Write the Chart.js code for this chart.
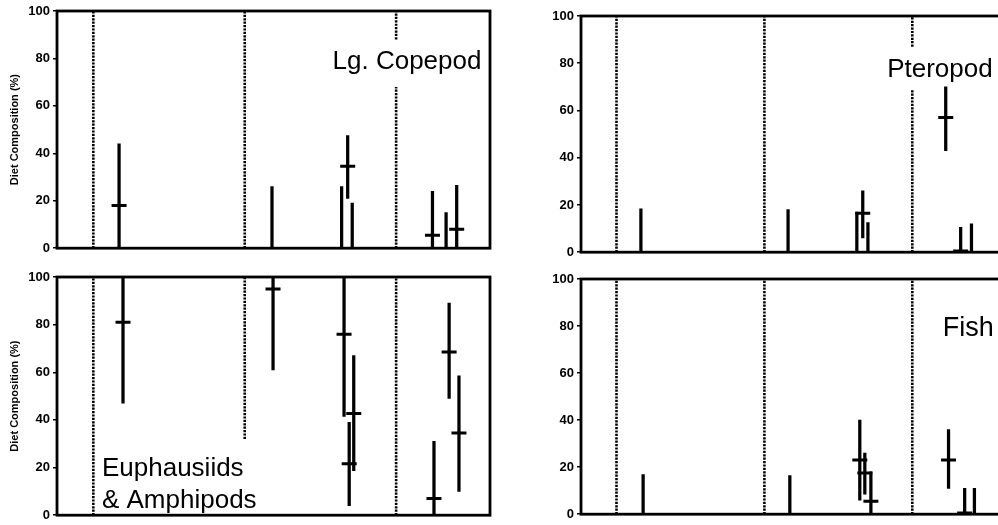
<!DOCTYPE html>
<html>
<head>
<meta charset="utf-8">
<script src="https://cdn.jsdelivr.net/npm/chart.js@4.4.1/dist/chart.umd.min.js"></script>
<style>
  html, body { margin: 0; padding: 0; background: #fff; overflow: hidden; }
  body { width: 998px; height: 525px; position: relative; }
  canvas { position: absolute; }
</style>
</head>
<body>
<canvas id="copepod" width="500" height="259" style="left:0;top:0"></canvas>
<canvas id="pteropod" width="490" height="258" style="left:524px;top:5px"></canvas>
<canvas id="euphausiid" width="500" height="260" style="left:0;top:266px"></canvas>
<canvas id="fish" width="490" height="257" style="left:524px;top:268px"></canvas>
<script>
// diet composition (%) per prey group: range (low-high) and mean
const yTicks = [0, 20, 40, 60, 80, 100];

const copepodX    = [1.17, 2.18, 2.64, 2.68, 2.71, 3.24, 3.33, 3.40];
const copepodLow  = [0,    0,    0,    21,   0,    0,    0,    0];
const copepodHigh = [44,   26,   26,   47.5, 19,   24,   15,   26.5];
const copepodMean = [18,   null, null, 34.5, null, 5.5,  null, 8];
const copepodDividers = [[1, 0, 100], [2, 0, 100], [3, 0, 68], [3, 88, 100]];

const pteropodX    = [1.165, 2.16, 2.625, 2.665, 2.70, 3.226, 3.327, 3.40];
const pteropodLow  = [0,     0,    0,     6,     0,    43,    0,     0];
const pteropodHigh = [18.4,  18,   17,    26,    12.5, 70,    10.5,  12];
const pteropodMean = [null,  null, null,  16.5,  null, 57,    0.5,   null];
const pteropodDividers = [[1, 0, 100], [2, 0, 100], [3, 0, 69], [3, 87, 100]];

const euphausiidX    = [1.196, 2.187, 2.656, 2.69, 2.72, 3.25, 3.35, 3.415];
const euphausiidLow  = [47,    61,    41.5,  4,    18.7, 0,    49,   10];
const euphausiidHigh = [100,   100,   100,   39,   67,   31,   89,   58.5];
const euphausiidMean = [81,    95,    76,    21.6, 42.7, 7,    68.5, 34.5];
const euphausiidDividers = [[1, 0, 100], [2, 32, 100], [3, 0, 100]];

const fishX    = [1.18, 2.172, 2.645, 2.679, 2.72, 3.245, 3.354, 3.42];
const fishLow  = [0,    0,     6,     8.5,   0,    11,    0,     0];
const fishHigh = [16.8, 16.4,  40,    26,    18,   36,    11,    11];
const fishMean = [null, null,  23,    17.5,  5.5,  23,    0.5,   null];
const fishDividers = [[1, 0, 100], [2, 0, 100], [3, 0, 100]];

const AXIS_W = 57;
const X_MIN = 0.76, X_MAX = 3.62;
const FONT = '"Liberation Sans", Arial, Helvetica, sans-serif';

// thick black box round the plot area plus the panel caption
const framePlugin = {
  id: 'frame',
  afterDatasetsDraw(chart, args, opts) {
    const { ctx, chartArea: a, scales } = chart;
    ctx.save();
    ctx.strokeStyle = '#000';
    ctx.lineWidth = 2.8;
    ctx.strokeRect(a.left, a.top, a.right - a.left, a.bottom - a.top);

    if (opts.lines) {
      ctx.fillStyle = '#000';
      ctx.font = `${opts.size}px ${FONT}`;
      ctx.textBaseline = 'alphabetic';
      ctx.textAlign = 'left';
      const x = scales.x.getPixelForValue(opts.x);
      const y = scales.y.getPixelForValue(opts.y);
      opts.lines.forEach((t, i) => ctx.fillText(t, x, y + i * opts.lineGap));
    }
    ctx.restore();
  }
};

function buildPanel(id, p) {
  const datasets = [];

  p.dividers.forEach(([x, y0, y1]) => {
    datasets.push({
      type: 'line',
      data: [{ x, y: y0 }, { x, y: y1 }],
      borderColor: '#000',
      borderWidth: 2.6,
      borderDash: [2.2, 1.2],
      pointRadius: 0,
      order: 3,
    });
  });

  datasets.push({
    type: 'bar',
    data: p.x.map((x, i) => ({ x, y: [p.low[i], p.high[i]] })),
    backgroundColor: '#000',
    borderWidth: 0,
    barThickness: 2.6,
    order: 2,
  });

  datasets.push({
    type: 'scatter',
    data: p.x.map((x, i) => ({ x, y: p.mean[i] })).filter(d => d.y !== null),
    pointStyle: 'line',
    pointRadius: 7.5,
    borderWidth: 3,
    borderColor: '#000',
    order: 1,
  });

  new Chart(document.getElementById(id), {
    type: 'bar',
    data: { datasets },
    plugins: [framePlugin],
    options: {
      responsive: false,
      animation: false,
      layout: { autoPadding: false, padding: { left: 0, top: 11, right: 10, bottom: 8 } },
      scales: {
        x: {
          type: 'linear',
          min: X_MIN,
          max: X_MAX,
          offset: false,
          display: false,
        },
        y: {
          min: 0,
          max: 100,
          afterBuildTicks: s => { s.ticks = yTicks.map(v => ({ value: v })); },
          afterFit: s => { s.width = AXIS_W; },
          border: { display: false },
          grid: {
            display: true,
            drawOnChartArea: false,
            drawTicks: true,
            tickLength: 4,
            color: '#000',
            lineWidth: 1.5,
          },
          ticks: {
            padding: 3,
            color: '#000',
            font: { family: FONT, size: 13, weight: 'bold' },
          },
          title: {
            display: p.showTitle,
            text: 'Diet Composition (%)',
            color: '#000',
            padding: { top: 8, bottom: 0 },
            font: { family: FONT, size: 11, weight: 'bold' },
          },
        },
      },
      plugins: {
        legend: { display: false },
        tooltip: { enabled: false },
        frame: p.label,
      },
    },
  });
}

buildPanel('copepod', {
  x: copepodX, low: copepodLow, high: copepodHigh, mean: copepodMean,
  dividers: copepodDividers, showTitle: true,
  label: { lines: ['Lg. Copepod'], x: 2.58, y: 75.4, size: 26, lineGap: 0 },
});
buildPanel('pteropod', {
  x: pteropodX, low: pteropodLow, high: pteropodHigh, mean: pteropodMean,
  dividers: pteropodDividers, showTitle: false,
  label: { lines: ['Pteropod'], x: 2.83, y: 74, size: 26, lineGap: 0 },
});
buildPanel('euphausiid', {
  x: euphausiidX, low: euphausiidLow, high: euphausiidHigh, mean: euphausiidMean,
  dividers: euphausiidDividers, showTitle: true,
  label: { lines: ['Euphausiids', '& Amphipods'], x: 1.057, y: 16.6, size: 26, lineGap: 32 },
});
buildPanel('fish', {
  x: fishX, low: fishLow, high: fishHigh, mean: fishMean,
  dividers: fishDividers, showTitle: false,
  label: { lines: ['Fish'], x: 3.206, y: 75.6, size: 27, lineGap: 0 },
});
</script>
</body>
</html>
